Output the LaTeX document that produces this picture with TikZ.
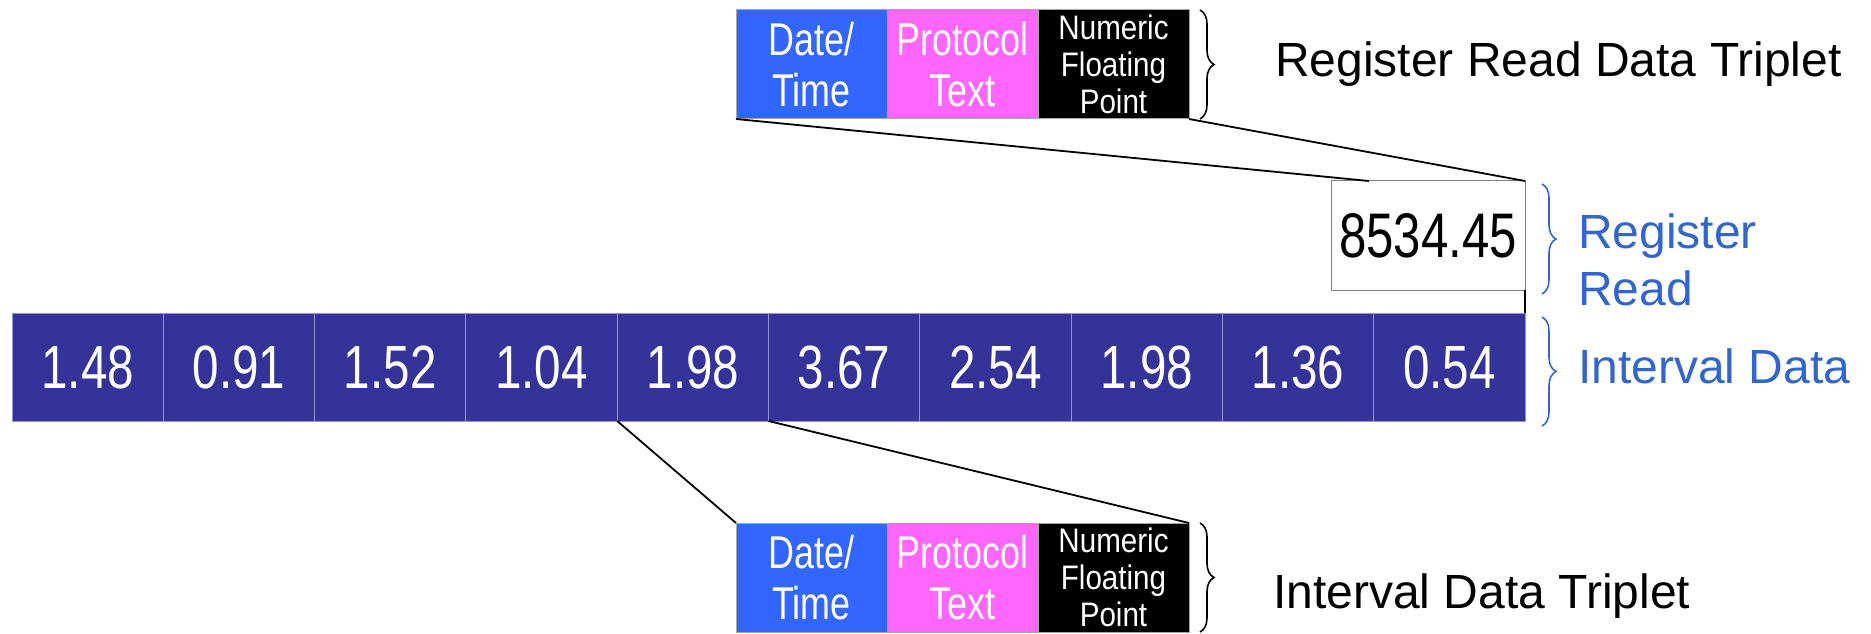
\documentclass[tikz,border=0pt]{standalone}
\usepackage{fontspec}
\setmainfont{Liberation Sans}
\newfontfamily\narrowfont[FakeStretch=0.78]{Liberation Sans}
\newfontfamily\midfont[FakeStretch=0.87]{Liberation Sans}
\usepackage{tikz}
\usetikzlibrary{positioning}
\usetikzlibrary{decorations.pathreplacing}
\usepackage{xcolor}

\definecolor{barblue}{RGB}{51,51,153}
\definecolor{cellline}{RGB}{150,150,205}
\definecolor{dateblue}{RGB}{51,102,255}
\definecolor{protopink}{RGB}{255,102,255}
\definecolor{tagblue}{RGB}{51,102,204}

\begin{document}
\begin{tikzpicture}[
		x=1pt, y=1pt,
		% Style definitions for interval bar and triplets
		cell/.style={draw=cellline, line width=1pt, fill=barblue, text=white, minimum width=151.3pt, minimum height=108pt, inner sep=0pt, outer sep=0pt, font=\narrowfont\fontsize{61}{61}\selectfont},
		field/.style={draw=gray!70, line width=1pt, minimum width=151pt, minimum height=109pt, inner sep=0pt, outer sep=0pt, text=white, align=center, font=\narrowfont\fontsize{46}{51}\selectfont},
		numfield/.style={field, fill=black, font=\midfont\fontsize{34}{37}\selectfont},
		valuebox/.style={draw=gray, line width=1pt, fill=white, minimum width=194pt, minimum height=109pt, inner sep=0pt, outer sep=0pt, font=\narrowfont\fontsize{63}{63}\selectfont},
		tag/.style={inner sep=0pt, align=left, font=\fontsize{48}{57}\selectfont},
		bracket/.style={decorate, decoration={brace, amplitude=14pt}, line width=1.6pt},
		link/.style={line width=1.8pt},
		node distance=0pt,
		]
		\useasboundingbox (0,0) rectangle (1871,633);

		% === Interval data bar ===
		\node[cell, anchor=south west] (c1) at (12,212) {1.48};
		\node[cell, right=of c1] (c2) {0.91};
		\node[cell, right=of c2] (c3) {1.52};
		\node[cell, right=of c3] (c4) {1.04};
		\node[cell, right=of c4] (c5) {1.98};
		\node[cell, right=of c5] (c6) {3.67};
		\node[cell, right=of c6] (c7) {2.54};
		\node[cell, right=of c7] (c8) {1.98};
		\node[cell, right=of c8] (c9) {1.36};
		\node[cell, right=of c9] (c10) {0.54};

		% === Register read value ===
		\node[valuebox, above=23pt of c10.north east, anchor=south east] (reg) {8534.45};
		\coordinate (regtap) at ([xshift=38pt]reg.north west);

		% === Register read data triplet (top) ===
		\node[field, fill=dateblue, anchor=north west] (tdate) at (736,623) {Date/\\Time};
		\node[field, fill=protopink, right=of tdate] (tproto) {Protocol\\Text};
		\node[numfield, right=of tproto] (tnum) {Numeric\\Floating\\Point};

		% === Interval data triplet (bottom) ===
		\node[field, fill=dateblue, anchor=north west] (bdate) at (736,110) {Date/\\Time};
		\node[field, fill=protopink, right=of bdate] (bproto) {Protocol\\Text};
		\node[numfield, right=of bproto] (bnum) {Numeric\\Floating\\Point};

		% === Braces ===
		\draw[bracket] ([xshift=11pt]tnum.north east) -- ([xshift=11pt]tnum.south east);
		\draw[bracket] ([xshift=11pt]bnum.north east) -- ([xshift=11pt]bnum.south east);
		\draw[bracket, tagblue] ([xshift=17pt, yshift=-3pt]reg.north east) -- ([xshift=17pt, yshift=-4pt]reg.south east);
		\draw[bracket, tagblue] ([xshift=17pt, yshift=-4pt]c10.north east) -- ([xshift=17pt, yshift=-5pt]c10.south east);

		% === Side labels ===
		\node[tag, right=86pt of tnum, yshift=0pt] (ttag) {Register Read Data Triplet};
		\node[tag, right=84pt of bnum, yshift=-19pt] (btag) {Interval Data Triplet};
		\node[tag, text=tagblue, right=53pt of reg, yshift=-24pt] (rtag) {Register\\Read};
		\node[tag, text=tagblue, right=53pt of c10, yshift=1pt] (itag) {Interval Data};

		% === Connectors ===
		\draw[link] (tdate.south west) -- (regtap);
		\draw[link] (tnum.south east) -- (reg.north east);
		\draw[link, line width=2.4pt] (reg.south east) -- (c10.north east);
		\draw[link] (c5.south west) -- (bdate.north west);
		\draw[link] (c6.south west) -- (bnum.north east);

	\end{tikzpicture}
\end{document}
